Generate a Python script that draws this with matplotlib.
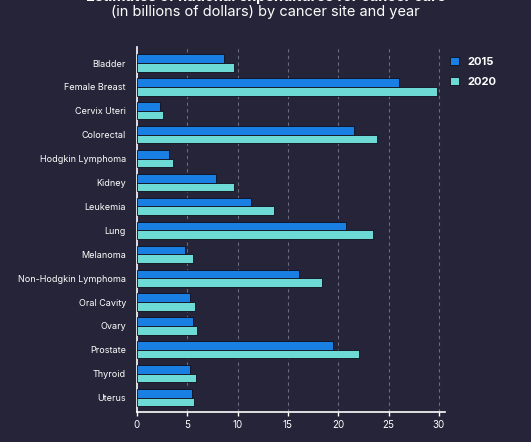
import matplotlib.pyplot as plt
import numpy as np

# datos
sitios = ["Bladder", "Female Breast", "Cervix Uteri", "Colorectal", "Hodgkin Lymphoma",
          "Kidney", "Leukemia", "Lung", "Melanoma", "Non-Hodgkin Lymphoma",
          "Oral Cavity", "Ovary", "Prostate", "Thyroid", "Uterus"]
gasto_2015 = [8.6, 26.0, 2.3, 21.6, 3.2, 7.8, 11.3, 20.8, 4.8, 16.1, 5.3, 5.6, 19.5, 5.3, 5.5]
gasto_2020 = [9.6, 29.8, 2.6, 23.8, 3.6, 9.6, 13.6, 23.4, 5.6, 18.4, 5.8, 6.0, 22.1, 5.9, 5.7]
ticks_x = [0, 5, 10, 15, 20, 25, 30]

fondo = "#252438"
azul = "#1a7fe3"
turquesa = "#6ddad5"

plt.rcParams['font.family'] = ['Inter', 'DejaVu Sans']
fig = plt.figure(figsize=(5.31, 4.42), dpi=100, facecolor=fondo)
ax = fig.add_axes([0.258, 0.068, 0.58, 0.826], facecolor=fondo)

y = np.arange(len(sitios))
h = 0.36
ax.barh(y - h / 2, gasto_2015, height=h, color=azul, edgecolor="#0d0d1a", linewidth=0.6,
        label="2015", zorder=3)
ax.barh(y + h / 2, gasto_2020, height=h, color=turquesa, edgecolor="#0d0d1a", linewidth=0.6,
        label="2020", zorder=3)

ax.set_yticks(y)
ax.set_yticklabels(sitios, color="white", fontsize=6.5)
ax.set_xticks(ticks_x)
ax.set_xticklabels([str(t) for t in ticks_x], color="white", fontsize=7)
ax.set_xlim(0, 30.6)
ax.set_ylim(14.6, -0.68)

ax.tick_params(axis="y", length=0, pad=8)
ax.tick_params(axis="x", colors="white", length=3, width=1, pad=3)
ax.grid(axis="x", color="#6a6a80", linestyle=(0, (3, 3)), linewidth=0.8, zorder=0)
for t in ax.get_xgridlines()[:1]:
    t.set_visible(False)

for s in ["top", "right"]:
    ax.spines[s].set_visible(False)
for s in ["left", "bottom"]:
    ax.spines[s].set_color("white")
    ax.spines[s].set_linewidth(1.2)

leg = ax.legend(loc="upper left", bbox_to_anchor=(0.985, 1.0), frameon=False,
                fontsize=8, handlelength=0.8, handleheight=0.8, labelspacing=0.9,
                handletextpad=0.7)
for t in leg.get_texts():
    t.set_color("white")
    t.set_fontweight("bold")

# primera línea del título, cortada por el borde superior como en el original
fig.text(0.5, 1.007, "Estimates of national expenditures for cancer care", ha="center",
         va="center", color="white", fontsize=10.5, fontweight="bold")
fig.text(0.5, 0.972, "(in billions of dollars) by cancer site and year", ha="center",
         va="center", color="white", fontsize=10.5)

fig.savefig("out.png", dpi=100, facecolor=fondo)
